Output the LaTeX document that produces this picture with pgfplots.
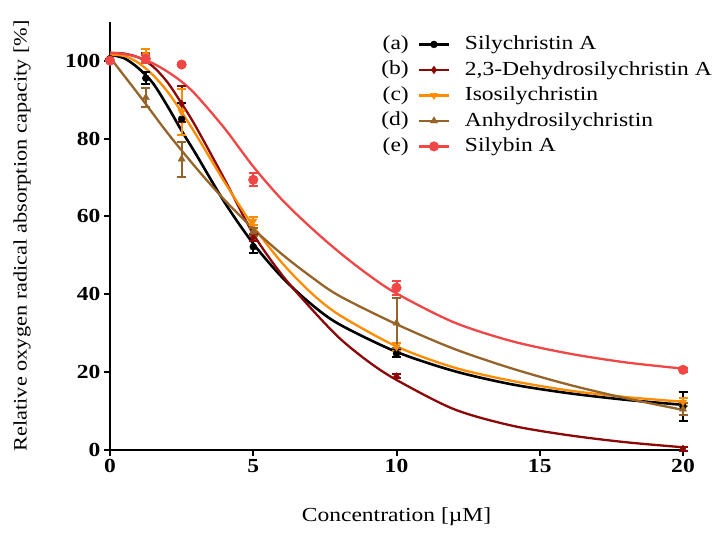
\documentclass[border=0pt]{standalone}
\usepackage{fontspec}
\setmainfont{Liberation Serif}[FakeStretch=1.18]
\usepackage{pgfplots}
\pgfplotsset{compat=1.18}
\definecolor{cBlack}{RGB}{0,0,0}
\definecolor{cDark}{RGB}{140,8,8}
\definecolor{cOrange}{RGB}{255,140,0}
\definecolor{cBrown}{RGB}{150,100,40}
\definecolor{cRed}{RGB}{240,70,70}
\newcommand{\bigf}{\fontsize{20}{23}\selectfont}
\pgfplotsset{
  errstyle/.style={error bars/y dir=both, error bars/y explicit,
    error bars/error mark=|,
    error bars/error bar style={line width=2bp},
    error bars/error mark options={line width=2bp, mark size=4.5bp}},
}
\newcommand{\legimg}[3]{%
  \node[anchor=east,inner sep=0pt,font=\bigf,text=black,draw=none] at (-10bp,0) {(#1)};
  \path[draw=none,fill=none] (0,0) -- (44bp,0);
  \draw[line width=2.5bp,color=#2] (0bp,0) -- (30bp,0);
  \draw[only marks,#3] plot coordinates {(15bp,0)};
}
\begin{document}
\begin{tikzpicture}
\path[use as bounding box] (-110bp,-87bp) rectangle (603bp,450bp);
\begin{axis}[
  at={(0,0)}, anchor=south west,
  scale only axis, width=573bp, height=428.3bp,
  xmin=0, xmax=20, ymin=0, ymax=110,
  axis x line*=bottom, axis y line*=left,
  axis line style={line width=2bp,-},
  xtick={0,5,10,15,20}, ytick={0,20,40,60,80,100},
  tick align=outside, major tick length=6bp,
  every tick/.style={line width=2bp, black},
  /pgf/number format/assume math mode=true,
  ticklabel style={font=\bigf\bfseries},
  every axis x label/.style={at={(axis description cs:0.5,-0.1564)}, anchor=center, font=\bigf},
  every axis y label/.style={at={(axis description cs:-0.1536,0.5)}, rotate=90, anchor=center, font=\fontsize{19}{22}\selectfont},
  xlabel={Concentration [µM]},
  ylabel={Relative oxygen radical absorption capacity [\%]},
  clip=false,
  legend style={at={(0.468,0.98)}, anchor=north west, draw=none, fill=none,
    font=\bigf, row sep=0pt,
    nodes={inner sep=2bp, text height=15.5bp, text depth=6bp}},
  legend cell align=left,
]
% fitted curves
\addplot[cBlack, line width=2.6bp, smooth, forget plot] coordinates {
(0,101.5) (0.5,100.6) (1,98.0) (1.5,94.2) (2,88.4) (2.5,82.0) (3,76.0) (4,63.6) (5,53.0) (6,44.4) (7,37.6) (8,32.3) (10,25.2) (12,20.3) (14,16.9) (16,14.6) (18,12.9) (20,11.6)};
\addplot[cDark, line width=2.3bp, smooth, forget plot] coordinates {
(0,102) (0.5,101.8) (1,100.8) (1.5,98.5) (2,94.5) (2.5,89) (3,83) (4,69.5) (5,55.5) (6,45) (7,36.5) (8,28.8) (9,22.8) (10,18) (12,10.5) (14,6.3) (16,3.8) (18,2.0) (20,0.7)};
\addplot[cOrange, line width=2.3bp, smooth, forget plot] coordinates {
(0,101.5) (0.5,101.2) (1,99.4) (1.5,96.3) (2,92.1) (2.5,86.8) (3,81) (4,68.8) (5,57.5) (6,48.1) (7,40.5) (8,34.7) (10,26.6) (12,21.2) (14,17.8) (16,15.3) (18,13.6) (20,12.4)};
\addplot[cBrown, line width=2.3bp, smooth, forget plot] coordinates {
(0,100.8) (1,91.3) (2,81.5) (3,72.5) (4,64.2) (5,56.8) (6,50.3) (7,44.6) (8,39.6) (10,32.3) (12,26) (14,21) (16,16.8) (18,13.3) (20,10.3)};
\addplot[cRed, line width=2.3bp, smooth, forget plot] coordinates {
(0,102) (0.5,101.7) (1,100.8) (1.5,99.3) (2,97.2) (2.5,94.6) (3,91.2) (4,82.6) (5,72.8) (6,64.3) (7,57.2) (8,50.8) (9,45.1) (10,40.2) (12,32.8) (14,28) (16,24.8) (18,22.5) (20,20.9)};
% data points
\addplot[cBlack, only marks, mark=*, mark size=3.5bp, errstyle,
  legend image code/.code={\legimg{a}{cBlack}{cBlack,mark=*,mark size=3.5bp}}]
  table[x index=0, y index=1, y error index=2] {
0 100.5 0
1.25 95.5 1.5
2.5 85 4
5 52.2 1.5
10 24.8 1
20 11.2 3.8
};
\addlegendentry{Silychristin A}
\addplot[cDark, only marks, mark=diamond*, mark size=3.8bp, errstyle,
  legend image code/.code={\legimg{b}{cDark}{cDark,mark=diamond*,mark size=3.8bp}}]
  table[x index=0, y index=1, y error index=2] {
0 100.3 0
1.25 101 1
2.5 88.9 4.7
5 54.6 1
10 18.9 0.5
20 0.3 0.5
};
\addlegendentry{2,3-Dehydrosilychristin A}
\addplot[cOrange, only marks, mark=triangle*, mark options={rotate=180}, mark size=4.2bp, errstyle,
  legend image code/.code={\legimg{c}{cOrange}{cOrange,mark=triangle*,mark options={rotate=180},mark size=4.2bp}}]
  table[x index=0, y index=1, y error index=2] {
0 100 0
1.25 101.5 1.5
2.5 86.8 6
5 58.8 1
10 26.5 1
20 12.3 1
};
\addlegendentry{Isosilychristin}
\addplot[cBrown, only marks, mark=triangle*, mark size=4.2bp, errstyle,
  legend image code/.code={\legimg{d}{cBrown}{cBrown,mark=triangle*,mark size=4.2bp}}]
  table[x index=0, y index=1, y error index=2] {
0 100 0
1.25 90.5 2.5
2.5 74.7 4.5
5 56 1
10 32.6 6.5
20 10.5 1.5
};
\addlegendentry{Anhydrosilychristin}
\addplot[cRed, only marks, mark=*, mark size=4.8bp, errstyle,
  legend image code/.code={\legimg{e}{cRed}{cRed,mark=*,mark size=4.8bp}}]
  table[x index=0, y index=1, y error index=2] {
0 100 0
1.25 100.5 1
2.5 99 0.5
5 69.4 1.7
10 41.7 1.8
20 20.6 0.5
};
\addlegendentry{Silybin A}
\end{axis}
\end{tikzpicture}
\end{document}
